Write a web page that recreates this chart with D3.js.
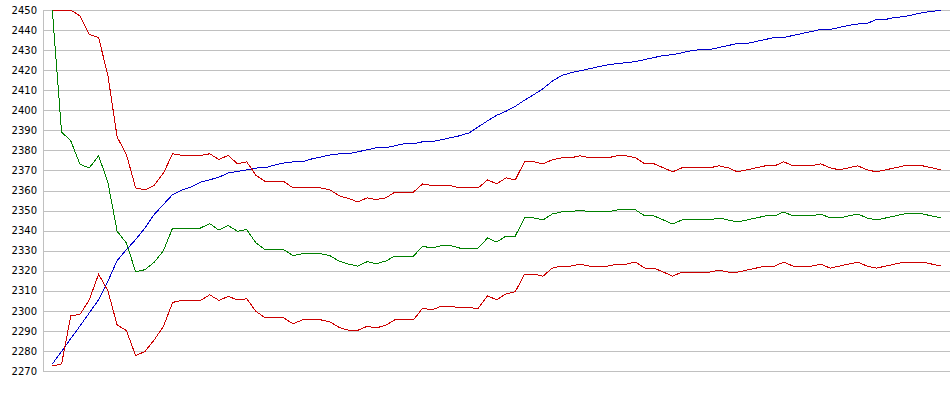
<!DOCTYPE html>
<html>
<head>
<meta charset="utf-8">
<script src="https://cdn.jsdelivr.net/npm/d3@7"></script>
<style>
  body { margin: 0; background: #fff; }
  svg { display: block; }
</style>
</head>
<body>
<div id="chart"></div>
<script>
// y axis tick labels
var yTicks = [2270, 2280, 2290, 2300, 2310, 2320, 2330, 2340, 2350, 2360,
              2370, 2380, 2390, 2400, 2410, 2420, 2430, 2440, 2450];

// rising line (blue)
var blueValues = [
  2273.5, 2279.7, 2286.2, 2292.5, 2299, 2305.5, 2314.7, 2325, 2330.5, 2335.5,
  2341.3, 2348, 2353, 2358, 2360.3, 2361.7, 2364.2, 2365.3, 2366.7, 2368.7,
  2369.5, 2370.3, 2371.2, 2371.3, 2372.7, 2373.7, 2374.3, 2374.3, 2375.7, 2376.7,
  2377.7, 2378.3, 2378.3, 2379.3, 2380.3, 2381.3, 2381.3, 2382.3, 2383.3, 2383.3,
  2384.3, 2384.3, 2385.3, 2386.3, 2387.3, 2388.7, 2391.7, 2394.7, 2397.5, 2399.5,
  2402, 2405, 2407.8, 2410.8, 2414.5, 2417.3, 2418.7, 2419.7, 2420.7, 2421.7,
  2422.7, 2423.3, 2423.7, 2424.3, 2425.3, 2426.3, 2427.3, 2427.7, 2428.7, 2429.7,
  2430.3, 2430.3, 2431.3, 2432.3, 2433.3, 2433.3, 2434.3, 2435.3, 2436.3, 2436.3,
  2437.3, 2438.3, 2439.3, 2440.3, 2440.3, 2441.3, 2442.3, 2443, 2443.3, 2445.3,
  2445.3, 2446.3, 2446.7, 2447.7, 2448.7, 2449.3, 2450
];

// middle line (green)
var greenValues = [
  2450, 2389.2, 2384.7, 2373, 2371.3, 2377.3, 2364.2, 2339.7, 2333.8, 2319.5,
  2320.5, 2324.2, 2330, 2341.3, 2341.3, 2341.3, 2341.3, 2343.5, 2340.2, 2342.5,
  2339.7, 2340.5, 2333.8, 2330.5, 2330.5, 2330.5, 2327.5, 2328.5, 2328.5, 2328.5,
  2327.5, 2324.7, 2323.3, 2322.3, 2324.5, 2323.5, 2324.8, 2327.3, 2327.3, 2327.3,
  2332.2, 2331.3, 2332.5, 2332.5, 2331.3, 2331.3, 2331.3, 2336.3, 2334.3, 2337.3,
  2337.3, 2346.3, 2346.3, 2345.3, 2348.3, 2349.3, 2349.3, 2350.3, 2349.3, 2349.3,
  2349.3, 2350.3, 2350.3, 2350.3, 2347.3, 2347.3, 2345.3, 2343.3, 2345.3, 2345.3,
  2345.3, 2345.3, 2346.3, 2345.3, 2344.3, 2345.3, 2346.3, 2347.3, 2347.3, 2349.3,
  2347.3, 2347.3, 2347.3, 2348.3, 2346.3, 2346.3, 2347.3, 2348.3, 2346.3, 2345.3,
  2346.3, 2347.3, 2348.3, 2348.3, 2348.3, 2347.3, 2346.3
];

// upper band (red)
var upperValues = [
  2450, 2450, 2450, 2447, 2437.8, 2436.2, 2417.5, 2386.7, 2378, 2361.3,
  2360.3, 2362.5, 2368.7, 2378.3, 2377.5, 2377.5, 2377.5, 2378.3, 2375.5, 2377.5,
  2373.3, 2374.3, 2367.5, 2364.5, 2364.5, 2364.5, 2361.3, 2361.3, 2361.3, 2361.3,
  2360.3, 2357.3, 2356, 2354.3, 2356.3, 2355.5, 2356.3, 2359.2, 2359.2, 2359.2,
  2363.3, 2362.5, 2362.5, 2362.5, 2361.3, 2361.3, 2361.3, 2365.3, 2363.3, 2366.3,
  2365.3, 2374.3, 2374.3, 2373.3, 2375.3, 2376.3, 2376.3, 2377.3, 2376.3, 2376.3,
  2376.3, 2377.3, 2377.3, 2376.3, 2373.3, 2373.3, 2371.3, 2369.3, 2371.3, 2371.3,
  2371.3, 2371.3, 2372.3, 2371.3, 2369.3, 2370.3, 2371.3, 2372.3, 2372.3, 2374.3,
  2372.3, 2372.3, 2372.3, 2373.3, 2371.3, 2370.3, 2371.3, 2372.3, 2370.3, 2369.3,
  2370.3, 2371.3, 2372.3, 2372.3, 2372.3, 2371.3, 2370.3
];

// lower band (red)
var lowerValues = [
  2272.5, 2273.5, 2297.5, 2298.3, 2305.5, 2318.3, 2310, 2293, 2290.2, 2277.7,
  2279.7, 2285.5, 2292.2, 2304.2, 2305.2, 2305.2, 2305.2, 2308, 2305.2, 2307.2,
  2305.5, 2306, 2299.7, 2296.5, 2296.5, 2296.5, 2293.5, 2295.5, 2295.5, 2295.5,
  2294.5, 2291.7, 2290.3, 2290.3, 2292.3, 2291.5, 2292.8, 2295.5, 2295.5, 2295.5,
  2301.3, 2300.5, 2302.3, 2302.3, 2301.5, 2301.5, 2301.3, 2307.5, 2305.5, 2308.5,
  2309.5, 2318.3, 2318.3, 2317.3, 2321.3, 2322.3, 2322.3, 2323.3, 2322.3, 2322.3,
  2322.3, 2323.3, 2323.3, 2324.3, 2321.3, 2321.3, 2319.3, 2317.3, 2319.3, 2319.3,
  2319.3, 2319.3, 2320.3, 2319.3, 2319.3, 2320.3, 2321.3, 2322.3, 2322.3, 2324.3,
  2322.3, 2322.3, 2322.3, 2323.3, 2321.3, 2322.3, 2323.3, 2324.3, 2322.3, 2321.3,
  2322.3, 2323.3, 2324.3, 2324.3, 2324.3, 2323.3, 2322.3
];

// Chart dimensions
var width = 950;
var height = 395;
var axisX = 43;

var svg = d3.select("#chart")
    .append("svg")
    .attr("width", width)
    .attr("height", height);

var x = d3.scaleLinear()
    .domain([0, blueValues.length - 1])
    .range([52.3, 941.2]);

var y = d3.scaleLinear()
    .domain([2270, 2450])
    .range([371, 10]);

// gridlines + labels
var axis = svg.append("g")
    .attr("transform", "translate(" + axisX + ",0)")
    .call(d3.axisLeft(y)
        .tickValues(yTicks)
        .tickSize(-(width - axisX))
        .tickSizeOuter(0)
        .tickPadding(6)
        .tickFormat(d3.format("d")));

axis.selectAll("line")
    .attr("stroke", "#c0c0c0")
    .attr("shape-rendering", "crispEdges");
axis.select(".domain")
    .attr("stroke", "#c0c0c0")
    .attr("shape-rendering", "crispEdges");
axis.selectAll("text")
    .attr("fill", "#000")
    .attr("font-family", "DejaVu Sans, sans-serif")
    .attr("font-size", "10px");

var line = d3.line()
    .x((d, i) => x(i))
    .y(d => y(d));

var series = [
    { values: blueValues, color: "#0000cc" },
    { values: upperValues, color: "#cc0000" },
    { values: lowerValues, color: "#cc0000" },
    { values: greenValues, color: "#008000" }
];

series.forEach(s => {
    svg.append("path")
        .datum(s.values)
        .attr("fill", "none")
        .attr("stroke", s.color)
        .attr("stroke-width", 1)
        .attr("shape-rendering", "crispEdges")
        .attr("d", line);
});
</script>
</body>
</html>
